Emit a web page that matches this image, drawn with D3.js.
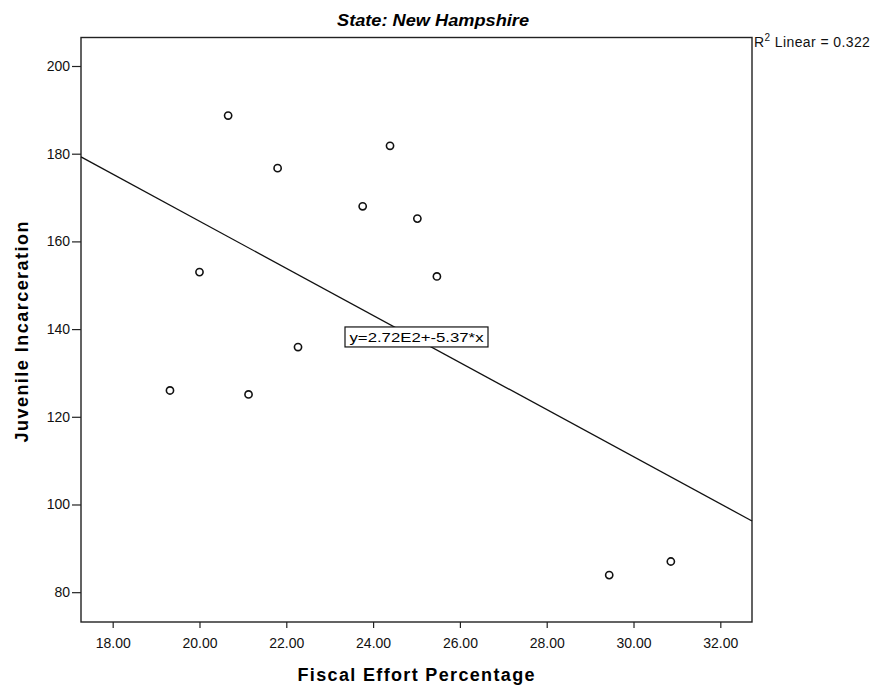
<!DOCTYPE html>
<html>
<head>
<meta charset="utf-8">
<script src="https://cdn.jsdelivr.net/npm/d3@7"></script>
<style>
  body { margin: 0; background: #fff; }
  svg { display: block; font-family: Arial, "Liberation Sans", sans-serif; }
  .axis text { font-size: 14px; fill: #111; }
  .axis line { stroke: #222; stroke-width: 1.2; }
  .dot { fill: none; stroke: #111; stroke-width: 1.6; }
  .fit { stroke: #111; stroke-width: 1.3; fill: none; }
</style>
</head>
<body>
<svg width="878" height="688"></svg>
<script>
// fiscal effort % and juvenile incarceration, New Hampshire
var fiscalEffort = [20.66, 24.39, 21.80, 23.76, 25.02, 20.00, 25.47, 22.27, 19.32, 21.13, 29.44, 30.86];
var incarceration = [188.7, 181.8, 176.7, 168.0, 165.2, 153.0, 152.0, 135.9, 126.0, 125.1, 83.9, 87.0];

var xTicks = [18, 20, 22, 24, 26, 28, 30, 32];
var yTicks = [80, 100, 120, 140, 160, 180, 200];

// linear fit as printed on the chart
var fitIntercept = 272;
var fitSlope = -5.37;
var rSquared = 0.322;
var labelAt = 25;

var svg = d3.select("svg"),
    margin = {top: 37.5, right: 126, bottom: 66, left: 81},
    width = +svg.attr("width") - margin.left - margin.right,
    height = +svg.attr("height") - margin.top - margin.bottom,
    g = svg.append("g").attr("transform", "translate(" + margin.left + "," + margin.top + ")");

var data = fiscalEffort.map(function(d, i) { return {x: d, y: incarceration[i]}; });

var x = d3.scaleLinear()
    .domain([17.27, 32.73])
    .range([0, width]);

var y = d3.scaleLinear()
    .domain([73.2, 206.5])
    .range([height, 0]);

var fmt = d3.format(".2f");

g.append("g")
    .attr("class", "axis axis--x")
    .attr("transform", "translate(0," + height + ")")
    .call(d3.axisBottom(x).tickValues(xTicks).tickFormat(fmt).tickSize(6).tickSizeOuter(0).tickPadding(10))
    .call(function(s) { s.select(".domain").remove(); });

g.append("g")
    .attr("class", "axis axis--y")
    .call(d3.axisLeft(y).tickValues(yTicks).tickFormat(d3.format("d")).tickSize(9).tickSizeOuter(0).tickPadding(2))
    .call(function(s) { s.select(".domain").remove(); });

// frame
g.append("rect")
    .attr("width", width)
    .attr("height", height)
    .attr("fill", "none")
    .attr("stroke", "#222")
    .attr("stroke-width", 1.4);

// fit line
var line = d3.line()
    .x(function(d) { return x(d); })
    .y(function(d) { return y(fitIntercept + fitSlope * d); });

g.append("path")
    .datum(x.domain())
    .attr("class", "fit")
    .attr("d", line);

g.selectAll(".dot")
    .data(data)
  .enter().append("circle")
    .attr("class", "dot")
    .attr("r", 3.6)
    .attr("cx", function(d) { return x(d.x); })
    .attr("cy", function(d) { return y(d.y); });

// equation label
var eq = g.append("g")
    .attr("transform", "translate(" + x(labelAt) + "," + (y(fitIntercept + fitSlope * labelAt) - 2) + ")");

eq.append("rect")
    .attr("x", -71.5)
    .attr("y", -10)
    .attr("width", 143)
    .attr("height", 20)
    .attr("fill", "#fff")
    .attr("stroke", "#111")
    .attr("stroke-width", 1.2);

eq.append("text")
    .attr("text-anchor", "middle")
    .attr("dy", "0.36em")
    .style("font-size", "13px")
    .attr("textLength", 134)
    .attr("lengthAdjust", "spacingAndGlyphs")
    .text("y=2.72E2+-5.37*x");

// R squared
var r2 = svg.append("text")
    .attr("x", margin.left + width + 2)
    .attr("y", 47)
    .style("font-size", "14px")
    .style("letter-spacing", "0.4px")
    .attr("fill", "#111");
r2.append("tspan").text("R");
r2.append("tspan").attr("dy", -6).style("font-size", "10px").text("2");
r2.append("tspan").attr("dy", 6).text(" Linear = " + d3.format(".3f")(rSquared));

// titles
svg.append("text")
    .attr("x", 433)
    .attr("y", 26)
    .attr("text-anchor", "middle")
    .style("font-size", "16px")
    .style("font-weight", "bold")
    .style("font-style", "italic")
    .attr("textLength", 192)
    .attr("lengthAdjust", "spacingAndGlyphs")
    .text("State: New Hampshire");

svg.append("text")
    .attr("x", 416)
    .attr("y", 681)
    .attr("text-anchor", "middle")
    .style("font-size", "18px")
    .style("font-weight", "bold")
    .attr("textLength", 237)
    .attr("lengthAdjust", "spacing")
    .text("Fiscal Effort Percentage");

svg.append("text")
    .attr("transform", "translate(28," + 332 + ") rotate(-90)")
    .attr("text-anchor", "middle")
    .style("font-size", "18px")
    .style("font-weight", "bold")
    .attr("textLength", 221)
    .attr("lengthAdjust", "spacing")
    .text("Juvenile Incarceration");
</script>
</body>
</html>
